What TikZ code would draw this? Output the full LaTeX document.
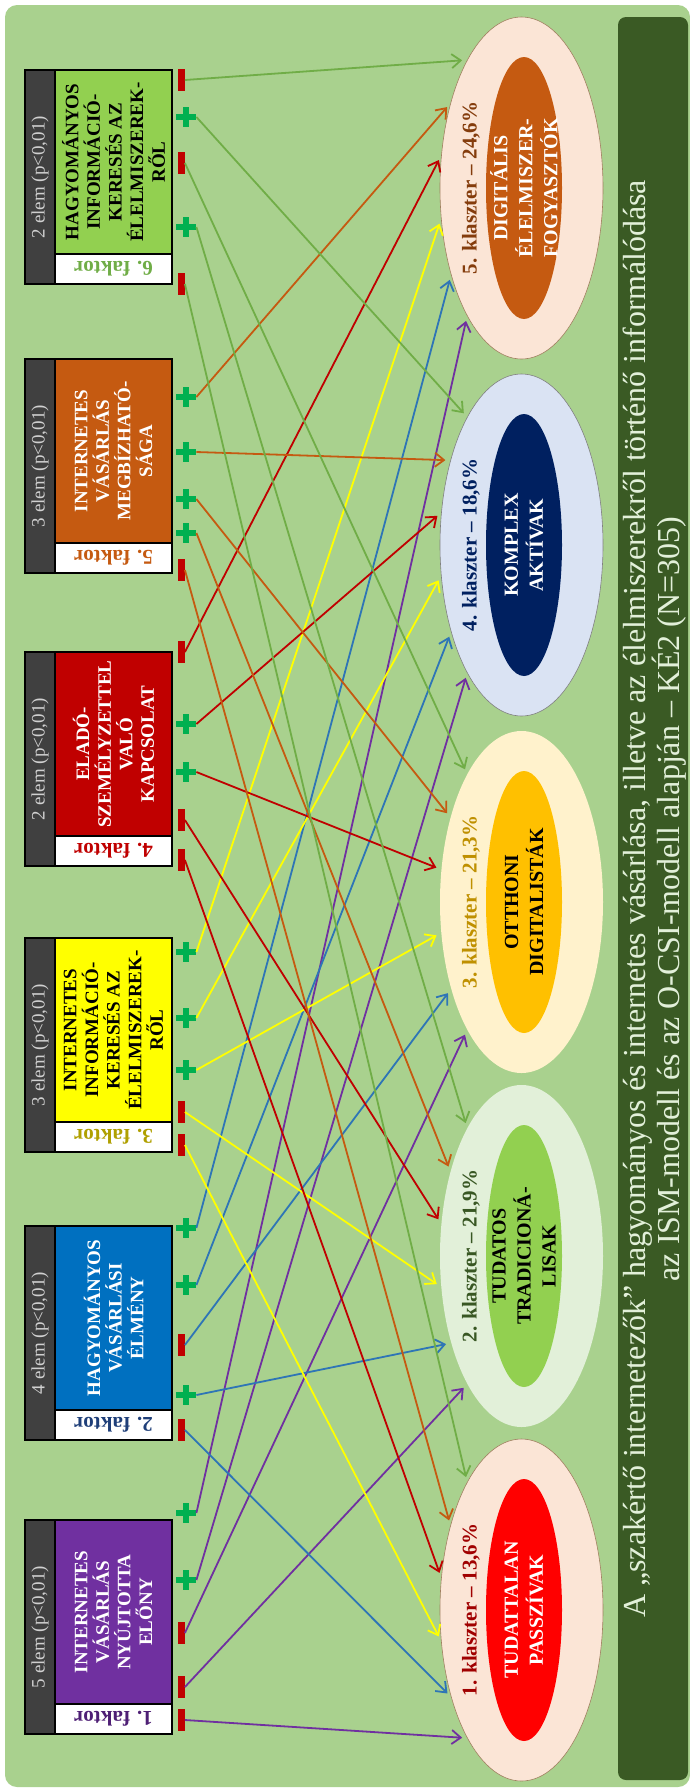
\documentclass[tikz,border=0pt]{standalone}
\usepackage{fontspec}
\setmainfont{Liberation Serif}
\usetikzlibrary{arrows.meta, shapes.geometric}
\lineskiplimit=-5pt

\definecolor{bggreen}{HTML}{A9D18E}
\definecolor{titlegreen}{HTML}{3A5A24}
\definecolor{titletext}{HTML}{E2F0D9}
\definecolor{stripgray}{HTML}{404040}
\definecolor{striptext}{HTML}{D0D0D0}
\definecolor{fpurple}{HTML}{7030A0}
\definecolor{labpurple}{HTML}{4E1F75}
\definecolor{fblue}{HTML}{0070C0}
\definecolor{fyellow}{HTML}{FFFF00}
\definecolor{fred}{HTML}{C00000}
\definecolor{forange}{HTML}{C55A11}
\definecolor{fgreen}{HTML}{92D050}
\definecolor{ablue}{HTML}{2E75B6}
\definecolor{agreen}{HTML}{70AD47}
\definecolor{labyellow}{HTML}{B0A000}
\definecolor{labblue}{HTML}{1F3F79}
\definecolor{minusred}{HTML}{C00000}
\definecolor{plusgreen}{HTML}{00B050}
\definecolor{peach}{HTML}{FBE5D6}
\definecolor{palegreen}{HTML}{E2F0D9}
\definecolor{cream}{HTML}{FFF2CC}
\definecolor{paleblue}{HTML}{DAE3F3}
\definecolor{gold}{HTML}{FFC000}
\definecolor{navy}{HTML}{002060}
\definecolor{klred}{HTML}{A00000}
\definecolor{klgreen}{HTML}{385723}
\definecolor{klgold}{HTML}{BF9000}
\definecolor{klbrown}{HTML}{843C0C}
\definecolor{ellborder}{HTML}{A08060}

\tikzset{
  colorbox/.style={draw=black, line width=1pt, rotate=90, minimum width=92pt,
    minimum height=58.5pt, inner sep=1pt, align=center,
    font=\fontsize{9.5}{10.8}\selectfont\bfseries},
  elembox/.style={draw=black, line width=1pt, fill=stripgray, text=striptext,
    rotate=90, minimum width=107pt, minimum height=15pt, inner sep=0pt,
    font=\fontsize{9.5}{10}\selectfont},
  faktorbox/.style={draw=black, line width=1pt, fill=white, rotate=180,
    minimum width=58.5pt, minimum height=15pt, inner sep=0pt,
    font=\fontsize{10.5}{11}\selectfont\bfseries},
  outerell/.style={ellipse, minimum width=81.5pt, minimum height=171pt, inner sep=0pt},
  innerell/.style={ellipse, minimum width=38pt, minimum height=131pt, inner sep=0pt},
  klabel/.style={rotate=90, inner sep=0pt, font=\fontsize{10.5}{12}\selectfont\bfseries},
  ktext/.style={rotate=90, align=center, inner sep=0pt,
    font=\fontsize{10}{12.5}\selectfont\bfseries},
  minus/.style={fill=minusred, minimum width=3.5pt, minimum height=11pt, inner sep=0pt},
  plus/.style={minimum size=10pt, inner sep=0pt, path picture={
    \fill[plusgreen] ([xshift=-1.6pt]path picture bounding box.south) rectangle ([xshift=1.6pt]path picture bounding box.north);
    \fill[plusgreen] ([yshift=-1.6pt]path picture bounding box.west) rectangle ([yshift=1.6pt]path picture bounding box.east);}},
  arr/.style={line width=0.9pt, -{Straight Barb[length=4.5pt,width=7pt]}, shorten >=2.5pt},
}

\begin{document}
\begin{tikzpicture}[x=0.5pt,y=-0.5pt]
\useasboundingbox (0,0) rectangle (690,1789);
\fill[bggreen, rounded corners=6pt] (5,5) rectangle (690,1787);
\fill[titlegreen, rounded corners=4pt] (618,17) rectangle (688,1780);
\node[rotate=90, align=center, text=titletext, inner sep=0pt,
  font=\fontsize{16}{17}\selectfont] (title) at (655,899)
  {A „szakértő internetezők” hagyományos és internetes vásárlása, illetve az élelmiszerekről történő informálódása\\
   az ISM-modell és az O-CSI-modell alapján – KÉ2 (N=305)};
%---------------------------------------------------
% klaszterek
\node[outerell, fill=peach, draw=ellborder, line width=0.3pt] (c1) at (521.5,1610) {};
\node[innerell, fill=red] (c1i) at (524,1610) {};
\node[klabel, text=klred] (c1l) at (471,1610) {1. klaszter – 13,6\%};
\node[ktext, text=white] (c1t) at (524,1610) {TUDATTALAN\\PASSZÍVAK};

\node[outerell, fill=palegreen] (c2) at (521.5,1256) {};
\node[innerell, fill=fgreen] (c2i) at (524,1256) {};
\node[klabel, text=klgreen] (c2l) at (471,1256) {2. klaszter – 21,9\%};
\node[ktext, text=black] (c2t) at (524,1256) {TUDATOS\\TRADICIONÁ-\\LISAK};

\node[outerell, fill=cream] (c3) at (521.5,902) {};
\node[innerell, fill=gold] (c3i) at (524,902) {};
\node[klabel, text=klgold] (c3l) at (471,902) {3. klaszter – 21,3\%};
\node[ktext, text=black] (c3t) at (524,902) {OTTHONI\\DIGITALISTÁK};

\node[outerell, fill=paleblue, draw=gray, line width=0.3pt] (c4) at (521.5,545) {};
\node[innerell, fill=navy] (c4i) at (524,545) {};
\node[klabel, text=navy] (c4l) at (471,545) {4. klaszter – 18,6\%};
\node[ktext, text=white] (c4t) at (524,545) {KOMPLEX\\AKTÍVAK};

\node[outerell, fill=peach, draw=ellborder, line width=0.3pt] (c5) at (521.5,188) {};
\node[innerell, fill=forange] (c5i) at (524,188) {};
\node[klabel, text=klbrown] (c5l) at (471,188) {5. klaszter – 24,6\%};
\node[ktext, text=white] (c5t) at (524,188) {DIGITÁLIS\\ÉLELMISZER-\\FOGYASZTÓK};
%---------------------------------------------------
% faktorok
\node[elembox] (f1e) at (40,1627) {5 elem (p<0,01)};
\node[colorbox, fill=fpurple, text=white] (f1) at (113.5,1612) {INTERNETES\\VÁSÁRLÁS\\NYÚJTOTTA\\ELŐNY};
\node[faktorbox, text=labpurple] (f1k) at (113.5,1719) {1. faktor};

\node[elembox] (f2e) at (40,1333) {4 elem (p<0,01)};
\node[colorbox, fill=fblue, text=white] (f2) at (113.5,1318) {HAGYOMÁNYOS\\VÁSÁRLÁSI\\ÉLMÉNY};
\node[faktorbox, text=labblue] (f2k) at (113.5,1425) {2. faktor};

\node[elembox] (f3e) at (40,1045) {3 elem (p<0,01)};
\node[colorbox, fill=fyellow, text=black] (f3) at (113.5,1030) {INTERNETES\\INFORMÁCIÓ-\\KERESÉS AZ\\ÉLELMISZEREK-\\RŐL};
\node[faktorbox, text=labyellow] (f3k) at (113.5,1137) {3. faktor};

\node[elembox] (f4e) at (40,759) {2 elem (p<0,01)};
\node[colorbox, fill=fred, text=white] (f4) at (113.5,744) {ELADÓ-\\SZEMÉLYZETTEL\\VALÓ\\KAPCSOLAT};
\node[faktorbox, text=fred] (f4k) at (113.5,851) {4. faktor};

\node[elembox] (f5e) at (40,466) {3 elem (p<0,01)};
\node[colorbox, fill=forange, text=white] (f5) at (113.5,451) {INTERNETES\\VÁSÁRLÁS\\MEGBÍZHATÓ-\\SÁGA};
\node[faktorbox, text=forange] (f5k) at (113.5,558) {5. faktor};

\node[elembox] (f6e) at (40,177) {2 elem (p<0,01)};
\node[colorbox, fill=fgreen, text=black] (f6) at (113.5,162) {HAGYOMÁNYOS\\INFORMÁCIÓ-\\KERESÉS AZ\\ÉLELMISZEREK-\\RŐL};
\node[faktorbox, text=agreen] (f6k) at (113.5,269) {6. faktor};
%---------------------------------------------------
% elojelek
\node[minus] (s11) at (181,1720) {};
\node[minus] (s12) at (181,1687) {};
\node[minus] (s13) at (181,1633) {};
\node[plus]  (s14) at (186,1580) {};
\node[plus]  (s15) at (186,1513) {};

\node[minus] (s21) at (181,1430) {};
\node[plus]  (s22) at (186,1395) {};
\node[minus] (s23) at (181,1345) {};
\node[plus]  (s24) at (186,1285) {};
\node[plus]  (s25) at (186,1228) {};

\node[minus] (s31) at (181,1145) {};
\node[minus] (s32) at (181,1112) {};
\node[plus]  (s33) at (186,1070) {};
\node[plus]  (s34) at (186,1018) {};
\node[plus]  (s35) at (186,952) {};

\node[minus] (s41) at (181,860) {};
\node[minus] (s42) at (181,820) {};
\node[plus]  (s43) at (186,772) {};
\node[plus]  (s44) at (186,724) {};
\node[minus] (s45) at (181,652) {};

\node[minus] (s51) at (181,570) {};
\node[plus]  (s52) at (186,533) {};
\node[plus]  (s53) at (186,499) {};
\node[plus]  (s54) at (186,452) {};
\node[plus]  (s55) at (186,397) {};

\node[minus] (s61) at (181,284) {};
\node[plus]  (s62) at (186,227) {};
\node[minus] (s63) at (181,163) {};
\node[plus]  (s64) at (186,117) {};
\node[minus] (s65) at (181,80) {};
%---------------------------------------------------
% nyilak
\draw[arr, fpurple] (s11.east) -- (c1.247);
\draw[arr, fpurple] (s12.east) -- (c2.247);
\draw[arr, fpurple] (s13.east) -- (c3.247);
\draw[arr, fpurple] (s14.east) -- (c4.247);
\draw[arr, fpurple] (s15.east) -- (c5.247);

\draw[arr, ablue] (s21.east) -- (c1.231);
\draw[arr, ablue] (s22.east) -- (c2.231);
\draw[arr, ablue] (s23.east) -- (c3.231);
\draw[arr, ablue] (s24.east) -- (c4.231);
\draw[arr, ablue] (s25.east) -- (c5.231);

\draw[arr, fyellow] (s31.east) -- (c1.201);
\draw[arr, fyellow] (s32.east) -- (c2.201);
\draw[arr, fyellow] (s33.east) -- (c3.201);
\draw[arr, fyellow] (s34.east) -- (c4.201);
\draw[arr, fyellow] (s35.east) -- (c5.201);

\draw[arr, fred] (s41.east) -- (c1.158);
\draw[arr, fred] (s42.east) -- (c2.158);
\draw[arr, fred] (s43.east) -- (c3.158);
\draw[arr, fred] (s44.east) -- (c4.158);
\draw[arr, fred] (s45.east) -- (c5.158);

\draw[arr, forange] (s51.east) -- (c1.130);
\draw[arr, forange] (s52.east) -- (c2.130);
\draw[arr, forange] (s53.east) -- (c3.130);
\draw[arr, forange] (s54.east) -- (c4.130);
\draw[arr, forange] (s55.east) -- (c5.130);

\draw[arr, agreen] (s61.east) -- (c1.113);
\draw[arr, agreen] (s62.east) -- (c2.113);
\draw[arr, agreen] (s63.east) -- (c3.113);
\draw[arr, agreen] (s64.east) -- (c4.113);
\draw[arr, agreen] (s65.east) -- (c5.113);
\end{tikzpicture}
\end{document}
